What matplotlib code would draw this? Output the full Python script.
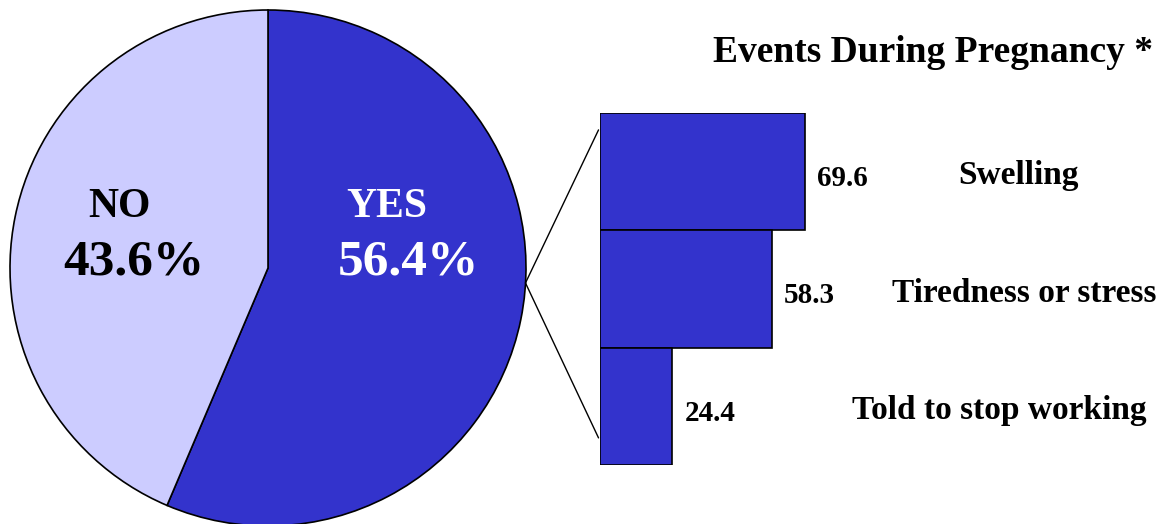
import matplotlib
matplotlib.use("Agg")
import matplotlib.pyplot as plt
from matplotlib.patches import ConnectionPatch
import matplotlib.transforms as mtransforms

# Daten
pie_labels = ["YES", "NO"]
pie_values = [56.4, 43.6]
pie_colors = ["#3333CC", "#CCCCFF"]

events = ["Swelling", "Tiredness or stress", "Told to stop working"]
event_values = [69.6, 58.3, 24.4]

title = "Events During Pregnancy *"

plt.rcParams["font.family"] = ["Liberation Serif", "DejaVu Serif"]
plt.rcParams["font.weight"] = "bold"

W, H = 1165, 524
fig = plt.figure(figsize=(W / 100, H / 100), dpi=100)

# Kreisdiagramm links
ax_pie = fig.add_axes([10 / W, -2 / H, 516 / W, 516 / H])
ax_pie.pie(pie_values, colors=pie_colors, startangle=90, counterclock=False,
           radius=1, wedgeprops=dict(edgecolor="black", linewidth=1.2))
ax_pie.set_xlim(-1, 1)
ax_pie.set_ylim(-1, 1)
ax_pie.axis("off")

# Beschriftung im Kreis
ax_pie.text(0.461, 0.238, pie_labels[0], color="white", fontsize=30,
            ha="center", va="center")
ax_pie.text(0.543, 0.02, f"{pie_values[0]}%", color="white", fontsize=37,
            ha="center", va="center")
ax_pie.text(-0.574, 0.238, pie_labels[1], color="black", fontsize=30,
            ha="center", va="center")
ax_pie.text(-0.519, 0.02, f"{pie_values[1]}%", color="black", fontsize=37,
            ha="center", va="center")

# Balken rechts
ax_bar = fig.add_axes([600 / W, 59 / H, 294.5 / W, 352 / H])
ypos = list(range(len(events)))[::-1]
ax_bar.barh(ypos, event_values, height=1.0, color="#3333CC",
            edgecolor="black", linewidth=1.2, align="center")
ax_bar.set_xlim(0, 100)
ax_bar.set_ylim(-0.5, len(events) - 0.5)
ax_bar.axis("off")

for y, v in zip(ypos, event_values):
    ax_bar.annotate(f"{v}", (v, y), xytext=(9, -5), textcoords="offset points",
                    ha="left", va="center", fontsize=21, color="black")

label_x = [1018, 1024, 999]
trans = mtransforms.blended_transform_factory(fig.transFigure, ax_bar.transData)
for y, name, lx in zip(ypos, events, label_x):
    ax_bar.annotate(name, (lx / W, y), xycoords=trans, xytext=(0, -3),
                    textcoords="offset points", ha="center", va="center",
                    fontsize=24)

fig.text(933 / W, 1 - 53 / H, title, ha="center", va="center", fontsize=27)

# Verbindungslinien
for yb in (0.952, 0.077):
    con = ConnectionPatch(xyA=(0.998, -0.058), coordsA=ax_pie.transData,
                          xyB=(-0.005, yb), coordsB=ax_bar.transAxes,
                          color="black", linewidth=1)
    fig.add_artist(con)

fig.savefig("out.png", dpi=100)
